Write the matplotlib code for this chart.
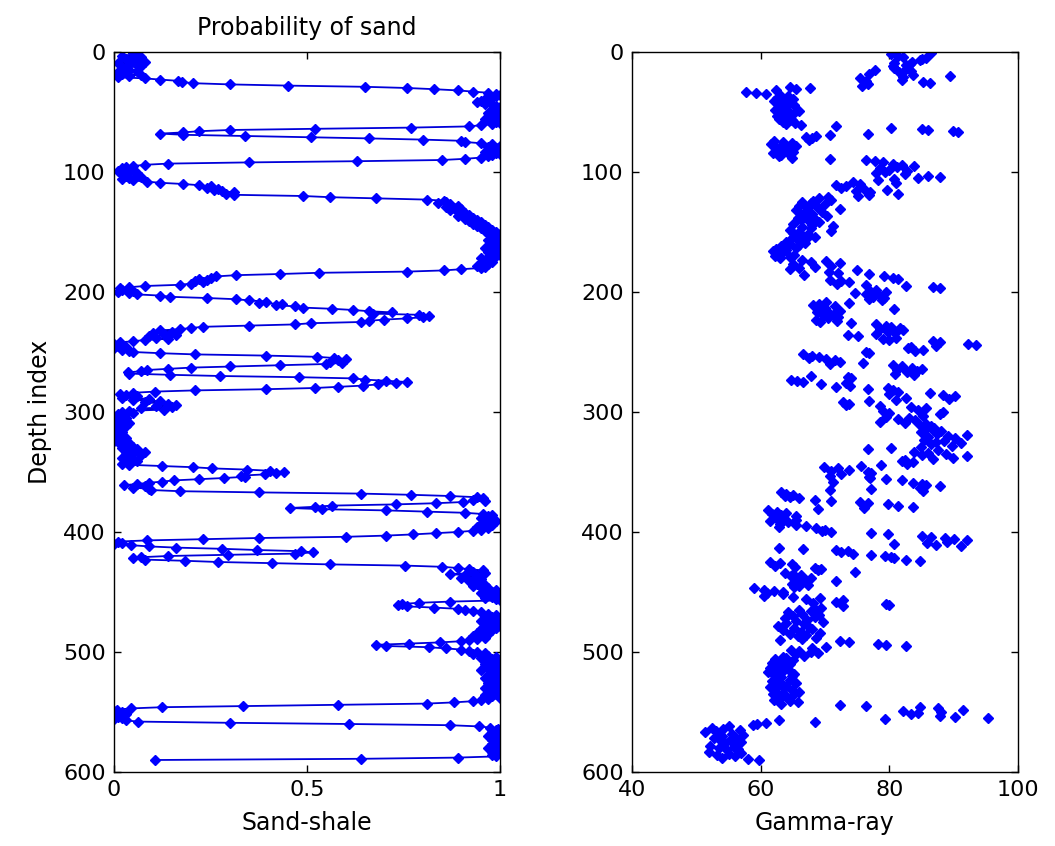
import numpy as np
import matplotlib
matplotlib.use("Agg")
import matplotlib.pyplot as plt

plt.rcParams['font.family'] = ['DejaVu Sans']

# Probability of sand per depth index
prob_sand = [
    0.05,0.06,0.02,0.07,0.05,0.03,0.06,0.08,0.01,0.04,0.06,0.07,0.02,0.03,0.04,0.06,0.01,0.02,0.07,0.04,
    0.01,0.08,0.12,0.165,0.175,0.205,0.30,0.45,0.65,0.76,0.83,0.89,0.93,
    0.97,0.99,1.0,0.99,0.98,0.96,0.97,0.95,0.94,0.96,0.98,0.99,1.0,0.99,0.98,1.0,0.99,0.97,0.98,1.0,0.99,0.98,0.96,0.97,0.99,1.0,0.98,0.95,
    0.92,0.77,0.52,0.30,0.22,0.18,0.12,
    0.18,0.34,0.51,0.66,0.80,0.90,0.91,0.95,0.98,1.0,
    0.97,0.99,1.0,0.98,0.96,0.99,1.0,0.98,0.97,0.95,
    0.91,0.85,0.63,0.35,0.14,0.08,0.05,
    0.03,0.02,0.05,0.01,0.04,0.06,0.02,0.03,0.07,0.04,0.02,0.05,
    0.085,0.12,0.18,0.22,0.25,0.24,0.27,0.26,0.28,0.31,0.29,0.31,0.49,0.56,0.68,0.81,0.855,
    0.86,0.84,0.87,0.89,0.86,0.88,0.90,0.87,0.89,0.91,
    0.90,0.92,0.89,0.93,0.91,0.94,0.92,0.95,0.93,0.96,
    0.94,0.97,0.95,0.98,0.96,0.99,0.97,1.0,0.98,0.99,
    1.0,0.99,0.97,1.0,0.98,0.99,1.0,0.98,0.96,0.99,
    1.0,0.99,0.97,0.98,1.0,0.99,0.97,0.95,0.97,0.96,
    0.98,0.95,0.97,0.94,0.96,0.95,
    0.90,0.855,0.76,0.53,0.43,0.315,0.265,0.25,0.22,0.24,0.21,0.23,0.20,0.17,0.08,0.04,0.015,
    0.02,0.05,0.01,0.04,
    0.06,0.12,0.145,0.24,0.315,0.35,0.395,0.375,0.435,0.42,0.47,0.49,0.565,0.62,0.66,0.72,0.67,0.79,0.815,0.80,
    0.76,0.70,0.66,0.64,0.51,0.47,0.35,0.23,0.20,0.17,0.12,0.15,0.10,0.13,0.16,0.09,0.11,0.14,0.08,0.05,0.015,
    0.0,0.02,0.01,0.03,0.0,0.02,0.04,
    0.05,0.12,0.21,0.395,0.525,0.57,0.60,0.58,0.56,0.59,
    0.55,0.43,0.30,0.20,0.14,0.085,0.07,0.035,
    0.04,0.145,0.275,0.48,0.62,0.65,0.705,0.76,0.73,0.685,
    0.645,0.58,0.52,0.395,0.21,0.105,0.05,0.015,
    0.03,0.06,0.02,0.09,0.05,0.12,0.08,0.14,0.16,0.11,0.15,0.07,0.13,0.04,0.02,0.05,0.01,
    0.02,0.0,0.03,0.01,0.0,0.02,0.04,0.01,0.0,0.03,0.02,0.0,0.01,0.0,0.02,0.01,0.0,0.0,0.01,0.03,
    0.02,0.0,0.01,0.04,0.02,0.03,0.05,0.02,0.06,0.04,0.08,0.05,0.03,0.07,0.04,0.02,0.05,0.03,0.06,0.04,0.02,
    0.04,0.125,0.205,0.255,0.345,0.405,0.44,0.42,
    0.39,0.33,0.34,0.285,0.22,0.155,0.125,0.09,0.06,0.025,
    0.08,0.05,0.09,
    0.095,0.17,0.375,0.64,0.77,0.87,0.94,0.955,0.93,0.96,
    0.905,0.835,0.73,0.565,0.52,0.455,0.54,
    0.705,0.81,0.91,0.955,0.98,
    0.97,0.95,0.98,0.96,0.99,0.97,0.95,0.98,0.96,0.94,0.97,0.95,
    0.93,0.89,0.835,0.775,0.705,0.60,0.375,0.23,0.085,0.01,0.02,0.0,
    0.045,0.09,0.16,0.28,0.37,0.485,0.515,0.47,
    0.295,0.14,0.07,0.05,0.08,
    0.185,0.27,0.41,0.56,0.755,0.85,0.89,0.92,0.955,
    0.93,0.96,0.87,0.91,0.94,0.90,0.95,0.93,0.92,0.95,0.94,0.96,0.93,0.95,
    0.97,0.99,0.96,0.98,0.95,0.97,1.0,0.98,0.96,0.99,
    1.0,0.87,0.79,0.745,0.735,
    0.76,0.83,0.89,0.91,0.93,
    0.95,0.97,0.99,0.96,0.98,1.0,0.97,0.95,0.99,0.98,0.96,1.0,0.97,0.99,0.95,0.98,0.96,0.94,0.97,0.95,0.93,0.96,0.94,0.92,0.90,
    0.845,0.765,0.68,0.705,
    0.815,0.86,0.90,0.92,
    0.94,0.96,0.93,0.97,0.99,0.95,0.98,1.0,0.97,0.99,0.96,0.98,1.0,0.99,0.97,0.95,0.98,1.0,0.99,0.97,
    1.0,0.98,0.96,0.99,1.0,0.98,0.97,0.99,1.0,0.98,0.96,0.99,0.97,1.0,0.98,0.99,0.96,0.98,1.0,0.97,0.95,
    0.93,0.88,0.81,0.58,0.335,0.125,0.045,0.007,
    0.0,0.02,0.01,0.03,0.0,0.01,0.02,0.0,0.03,
    0.063,0.30,0.61,0.87,0.945,0.975,0.995,
    0.99,1.0,0.98,1.0,0.99,0.97,1.0,0.99,0.98,1.0,0.99,1.0,0.98,0.99,1.0,0.97,0.99,1.0,0.98,1.0,0.99,0.98,
    0.99,0.89,0.64,0.105,
]

# Gamma-ray reading per depth index
gamma_ray = [
    86.5,80.3,81.3,82.1,85.7,85.0,84.7,83.5,80.8,83.2,
    82.6,80.5,80.8,82.6,77.7,83.4,81.5,76.9,83.7,89.4,
    82.1,75.4,81.9,76.4,85.2,86.3,76.7,75.8,64.5,67.6,
    65.5,62.4,57.7,59.3,60.9,63.0,64.2,62.5,65.0,63.8,
    62.1,64.7,63.3,65.2,62.8,64.0,63.5,62.2,66.0,64.4,
    63.1,65.0,62.6,64.1,63.7,62.9,64.8,63.4,65.3,64.0,
    66.3,71.7,80.3,85.0,86.0,89.9,90.7,76.7,70.7,68.6,
    67.0,68.0,67.5,62.0,63.5,64.8,61.6,65.5,63.0,64.2,
    62.5,63.8,65.0,61.9,64.4,63.2,62.8,64.9,70.7,76.4,
    77.7,79.0,80.5,82.0,83.9,81.2,78.5,80.0,82.8,79.3,
    77.9,82.4,86.0,87.8,84.5,80.7,78.2,74.3,81.0,75.5,
    71.7,73.3,72.5,76.0,79.6,74.8,77.0,81.3,76.9,75.2,
    70.5,69.0,71.0,68.2,66.5,67.8,70.0,66.0,68.8,67.2,
    72.3,65.5,69.5,66.8,68.0,67.0,70.3,65.8,68.5,66.2,
    67.5,69.0,65.0,68.0,71.2,66.5,67.8,64.5,71.0,66.0,
    65.0,67.3,66.2,68.5,64.8,67.0,65.8,63.9,66.9,64.5,
    66.0,63.2,65.5,62.4,64.0,61.9,63.5,62.8,65.2,62.2,
    64.6,63.0,66.4,70.2,67.8,72.3,65.0,71.0,68.5,66.0,
    64.5,74.9,70.6,72.0,76.9,66.8,79.2,80.5,81.3,70.7,
    72.5,73.8,71.8,76.4,82.6,86.8,87.8,78.0,77.0,79.5,
    74.6,76.4,78.6,77.5,79.2,76.8,78.9,70.2,73.8,69.0,
    68.1,71.5,70.0,80.8,69.5,72.3,68.8,70.8,71.2,69.8,
    72.0,70.5,68.6,71.8,69.3,74.0,78.0,79.5,80.3,81.6,
    78.6,82.1,79.8,80.9,77.9,73.6,75.1,81.0,79.0,80.0,
    86.8,87.8,92.2,93.5,87.2,83.4,82.9,85.2,84.0,76.4,
    76.9,66.6,68.0,69.1,67.5,70.2,71.5,72.3,75.9,70.8,
    80.6,82.0,83.5,85.0,81.2,84.3,82.8,80.9,83.8,67.9,
    73.6,74.0,64.7,65.6,66.6,73.2,69.4,73.9,71.7,79.8,
    76.7,80.5,81.3,86.3,80.0,88.3,90.2,82.6,89.2,81.0,
    76.9,72.8,73.8,73.3,78.5,83.4,85.7,84.5,79.0,88.3,
    80.0,87.8,85.2,79.5,83.0,81.3,84.0,78.5,82.5,85.7,
    84.7,86.5,87.0,85.5,86.8,88.0,84.9,87.4,92.0,89.1,
    86.0,90.2,85.4,88.5,87.2,91.2,86.5,89.8,84.9,80.3,
    76.7,87.5,83.9,86.0,88.8,85.0,92.0,89.9,86.8,82.5,
    81.9,83.7,82.8,78.7,75.6,69.9,72.0,73.8,71.0,76.7,
    77.2,72.5,70.8,76.9,77.0,79.5,81.9,71.2,83.7,85.0,
    85.7,87.8,84.8,77.2,70.7,85.3,63.2,64.0,65.0,63.8,
    64.5,66.0,68.4,71.0,75.4,76.7,79.8,81.3,83.7,76.0,
    68.9,61.1,62.5,64.0,61.8,63.2,65.5,62.4,63.6,65.5,
    61.5,64.2,63.0,65.5,67.1,62.8,68.6,70.0,69.5,71.0,
    77.2,79.8,85.0,86.5,88.6,90.1,92.0,89.0,85.8,80.8,
    87.3,91.2,62.9,66.6,71.7,73.6,72.5,74.3,77.2,79.3,
    80.3,80.8,82.6,84.7,61.5,63.0,64.8,62.2,65.3,68.4,
    69.4,68.9,74.6,63.8,65.0,66.2,64.7,67.9,65.8,67.0,
    71.7,66.5,64.9,67.3,66.0,65.2,59.0,60.5,62.0,63.4,
    61.0,63.4,60.5,65.0,69.2,67.0,72.8,71.7,68.1,79.5,
    80.0,72.8,69.4,68.5,66.0,67.8,64.2,66.5,69.0,65.0,
    68.5,63.8,67.2,65.5,69.7,64.0,66.8,62.7,67.5,65.2,
    68.0,63.5,66.2,69.2,64.6,67.0,65.8,68.6,66.5,63.0,
    72.3,73.8,78.2,79.5,82.6,70.2,68.0,64.7,66.0,67.9,
    68.9,65.5,66.8,63.5,64.0,62.2,65.0,63.0,61.8,64.6,
    62.5,63.8,61.5,64.2,62.9,63.5,61.1,65.2,62.0,64.8,
    63.2,62.4,64.5,61.8,63.0,65.5,62.6,64.0,61.5,63.7,
    62.2,64.9,66.0,63.4,61.9,65.0,62.8,64.3,63.0,62.0,
    64.5,65.8,63.2,72.3,76.4,84.7,87.6,91.5,82.1,88.1,
    84.5,83.4,87.8,90.2,95.3,79.3,62.9,68.4,60.9,59.5,
    58.8,55.0,52.5,54.2,56.8,53.0,51.3,55.5,57.2,54.0,
    56.0,52.8,55.2,53.8,57.0,54.5,56.3,52.2,55.8,53.5,
    56.5,54.8,52.0,57.0,55.0,53.2,56.0,54.0,58.0,59.8,
]

depth_p = np.arange(1, len(prob_sand) + 1)
depth_g = np.arange(1, len(gamma_ray) + 1)

W, H = 1055, 846
fig = plt.figure(figsize=(W / 100, H / 100), dpi=100)
bottom = 1 - 772 / H
height = 720 / H
ax1 = fig.add_axes([114 / W, bottom, 386 / W, height])
ax2 = fig.add_axes([632 / W, bottom, 386 / W, height])

blue = (0, 0, 1)
ax1.plot(prob_sand, depth_p, '-', color=(0, 0, 0.85), lw=1.3, marker='D', ms=4.6,
         mfc=blue, mec=blue)
ax2.plot(gamma_ray, depth_g, 'D', color=blue, ms=5.2, mfc=blue, mec=blue, lw=0)

fs = 16
for ax in (ax1, ax2):
    ax.set_ylim(600, 0)
    ax.set_yticks([0, 100, 200, 300, 400, 500, 600])
    ax.tick_params(direction='in', top=True, right=True, length=5, width=1,
                   labelsize=fs, pad=6)
    for s in ax.spines.values():
        s.set_linewidth(1.0)

ax1.set_xlim(0, 1)
ax1.set_xticks([0, 0.5, 1])
ax1.set_xticklabels(['0', '0.5', '1'])
ax2.set_xlim(40, 100)
ax2.set_xticks([40, 60, 80, 100])

ax1.set_title('Probability of sand', fontsize=fs + 1, pad=12)
ax1.set_xlabel('Sand-shale', fontsize=fs + 1, labelpad=8)
ax1.set_ylabel('Depth index', fontsize=fs + 1, labelpad=8)
ax2.set_xlabel('Gamma-ray', fontsize=fs + 1, labelpad=8)

fig.savefig('out.png', dpi=100)
